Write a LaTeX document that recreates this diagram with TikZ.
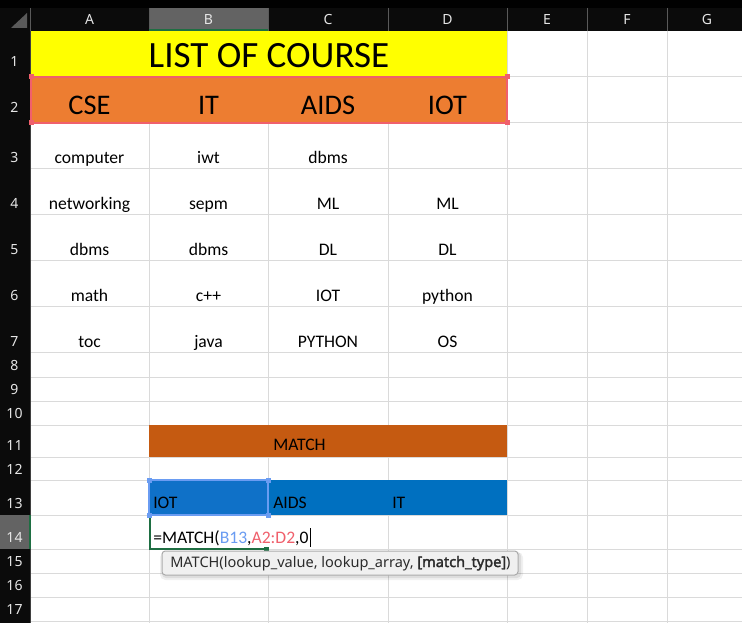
\documentclass[tikz,border=0pt]{standalone}
\usepackage{fontspec}
\setmainfont{Carlito}
\newfontfamily\uifont{Noto Sans}[AutoFakeBold=2.2]
\definecolor{titleyellow}{HTML}{FFFF00}
\definecolor{headorange}{HTML}{ED7D31}
\definecolor{matchorange}{HTML}{C55A11}
\definecolor{rowblue}{HTML}{0070C0}
\definecolor{selblue}{HTML}{0F71C8}
\definecolor{refred}{HTML}{F0606C}
\definecolor{refblue}{HTML}{6A9CF2}
\definecolor{activegreen}{HTML}{1E6E42}
\definecolor{gridgray}{HTML}{DADADA}
\definecolor{headbg}{HTML}{0B0B0B}
\definecolor{headsel}{HTML}{636363}
\definecolor{headsep}{HTML}{5A5A5A}
\definecolor{headtext}{HTML}{E6E6E6}
\definecolor{tipfill}{HTML}{F0F0F0}
\definecolor{tipline}{HTML}{ABABAB}
\definecolor{tiptext}{HTML}{2B2B2B}
\newcommand\cellfont{\fontsize{13.2}{15}\selectfont}
\newcommand\headfont{\uifont\fontsize{10.5}{12}\selectfont}
\tikzset{
  cell/.style={anchor=base, inner sep=0pt, font=\cellfont},
  lcell/.style={anchor=base west, inner sep=0pt, font=\cellfont},
  head/.style={anchor=base, inner sep=0pt, font=\headfont, text=headtext},
  gridline/.style={draw=gridgray, line width=.75pt},
  handle/.style={rectangle, fill=#1, inner sep=0pt, minimum size=3.75pt}
}
\begin{document}
\begin{tikzpicture}[x=.75pt, y=-.75pt]
  \useasboundingbox (0,0) rectangle (742,623);
  \fill[white] (0,0) rectangle (742,623);
  % grid
  \foreach \x in {30,149,268,388,507,587,667}
    \draw[gridline] (\x,31) -- (\x,623);
  \foreach \y in {77,123,169,215,261,307,353,377,401,425,457,480,515,549,573,597,621}
    \draw[gridline] (30,\y) -- (742,\y);
  \fill[white] (267,516) rectangle (269,548);
  % filled cells
  \fill[titleyellow] (30,31) rectangle (507,77);
  \fill[headorange] (30,77) rectangle (507,123);
  \fill[matchorange] (149,425) rectangle (507,457);
  \fill[rowblue] (268,480) rectangle (507,515);
  \fill[selblue] (149,480) rectangle (268,515);
  % headers
  \fill[headbg] (0,0) rectangle (742,31);
  \fill[headbg] (0,0) rectangle (30,623);
  \fill[black!90!headbg] (0,0) rectangle (742,8);
  \fill[headsel] (149,8) rectangle (268,31);
  \fill[headsel] (0,515) rectangle (30,549);
  \fill[headsep] (11,28) -- (27,28) -- (27,13) -- cycle;
  \foreach \x in {30,149,268,388,507,587,667}
    \draw[headsep, line width=.75pt] (\x,8) -- (\x,31);
  \draw[headsep!70!black, line width=.75pt] (30,31) -- (30,623);
  \draw[activegreen, line width=1.5pt] (149,30) -- (268,30);
  \draw[activegreen, line width=1.5pt] (29.5,515) -- (29.5,549);
  \foreach \c/\x in {A/89.5,B/208.5,C/328,D/447.5,E/547,F/627,G/707}
    \node[head] (col\c) at (\x,25) {\c};
  \foreach \r/\y in {1/67,2/113,3/163,4/209,5/255,6/301,7/347,8/370,9/394,10/418,11/450,12/474,13/508,14/542,15/566,16/590,17/614}
    \node[head] (row\r) at (14.5,\y) {\r};
  % title rows
  \node[anchor=base, inner sep=0pt, font=\fontsize{27.8}{31}\selectfont] (title) at (269,67.5) {LIST OF COURSE};
  \foreach \n/\t/\x in {a/CSE/89.5,b/IT/208.5,c/AIDS/328,d/IOT/447.5}
    \node[anchor=base, inner sep=0pt, font=\fontsize{21.3}{25}\selectfont] (head\n) at (\x,115) {\t};
  % course lists
  \foreach \r/\yb/\a/\b/\c/\d in {3/164/computer/iwt/dbms/,4/210/networking/sepm/ML/ML,5/256/dbms/dbms/DL/DL,6/302/math/c++/IOT/python,7/348/toc/java/PYTHON/OS}{
    \node[cell] (a\r) at (89.5,\yb) {\a};
    \node[cell] (b\r) at (208.5,\yb) {\b};
    \node[cell] (c\r) at (328,\yb) {\c};
    \node[cell] (d\r) at (447.5,\yb) {\d};
  }
  \node[lcell] (match) at (273,450) {MATCH};
  \node[lcell] (b13) at (153,508) {IOT};
  \node[lcell] (c13) at (273,508) {AIDS};
  \node[lcell] (d13) at (392,508) {IT};
  \node[lcell] (formula) at (153,543)
    {=MATCH(\textcolor{refblue}{B13},\textcolor{refred}{A2:D2},0};
  \coordinate (cursor) at ([xshift=1.5pt]formula.east);
  \draw[black, line width=.75pt] (cursor |- 0,528) -- (cursor |- 0,547);
  % reference borders
  \draw[refred, line width=1.2pt] (31,77) rectangle (507,123);
  \foreach \p/\x/\y in {1/31/77,2/507/77,3/31/123,4/507/123}
    \node[handle=refred] (redh\p) at (\x,\y) {};
  \draw[activegreen, line width=1.5pt] (150,515) -- (150,549) -- (266,549);
  \node[handle=activegreen] (fillh) at (266,549) {};
  \draw[refblue, line width=1.2pt] (149,480) rectangle (268,515);
  \foreach \p/\x/\y in {1/149/480,2/268/480,3/149/515,4/268/515}
    \node[handle=refblue] (blueh\p) at (\x,\y) {};
  % tooltip
  \fill[black, opacity=.06, rounded corners=4pt] (160,552) rectangle (523,580);
  \fill[black, opacity=.08, rounded corners=3pt] (162,552) rectangle (521,578);
  \draw[tipline, fill=tipfill, line width=.75pt, rounded corners=2.5pt] (162,551) rectangle (518,575);
  \node[anchor=base west, inner sep=0pt, font=\headfont\fontsize{10.9}{12}\selectfont, text=tiptext] (tiptext) at (170,567)
    {MATCH(lookup\_value, lookup\_array, \textbf{[match\_type]})};
\end{tikzpicture}
\end{document}
